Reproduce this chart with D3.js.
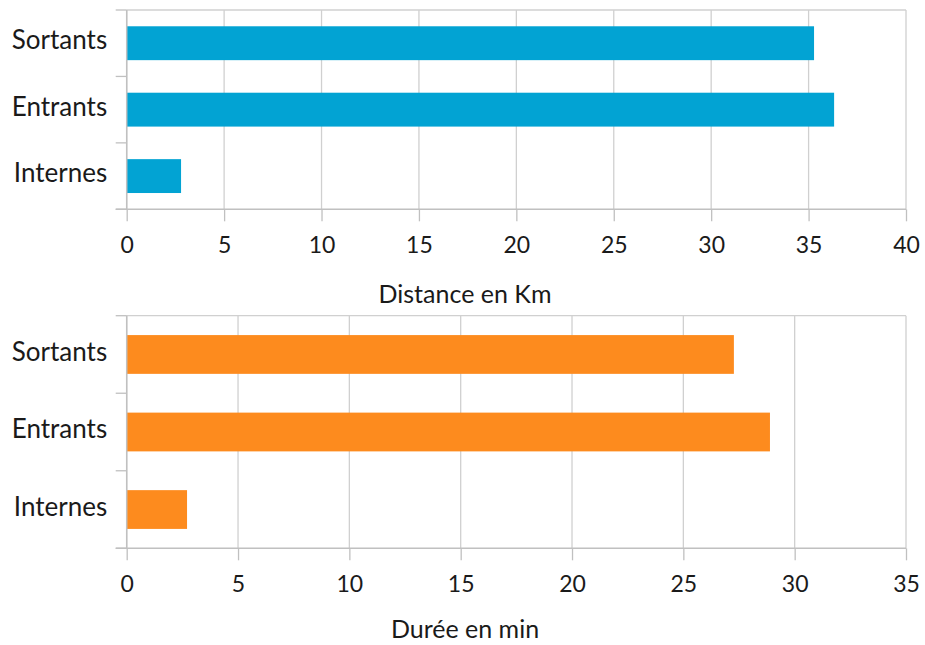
<!DOCTYPE html>
<html>
<head>
<meta charset="utf-8">
<script src="https://cdn.jsdelivr.net/npm/d3@7"></script>
<style>
  html, body { margin: 0; padding: 0; background: #fff; }
  svg text { font-family: "Century Gothic", "Lato", "DejaVu Sans", sans-serif; fill: #1a1a1a; }
</style>
</head>
<body>
<svg id="chart" width="925" height="645"></svg>
<script>
const categories = ["Sortants", "Entrants", "Internes"];
const distanceValues = [35.28, 36.31, 2.79];
const dureeValues = [27.27, 28.89, 2.71];
const distanceTicks = [0, 5, 10, 15, 20, 25, 30, 35, 40];
const dureeTicks = [0, 5, 10, 15, 20, 25, 30, 35];
const distanceTitle = "Distance en Km";
const dureeTitle = "Durée en min";

const svg = d3.select("#chart");
const FONT = "'Century Gothic', Lato, 'DejaVu Sans', sans-serif";

function drawPanel(opts) {
  const { top, bottom, left, right, values, ticks, color, title, titleY, padding } = opts;
  const g = svg.append("g");
  const x = d3.scaleLinear().domain([0, d3.max(ticks)]).range([left, right]);
  const y = d3.scaleBand().domain(categories).range([top, bottom]).paddingInner(padding).paddingOuter(padding / 2);
  const yEdges = d3.scaleLinear().domain([0, categories.length]).range([top, bottom]);

  // gridlines
  g.selectAll("line.grid").data(ticks).join("line")
    .attr("x1", d => x(d)).attr("x2", d => x(d))
    .attr("y1", top).attr("y2", bottom)
    .attr("stroke", "#d0d0d0").attr("stroke-width", 1.3);
  // top border
  g.append("line").attr("x1", left).attr("x2", right).attr("y1", top).attr("y2", top)
    .attr("stroke", "#d0d0d0").attr("stroke-width", 1.3);

  // bars
  g.selectAll("rect.bar").data(values).join("rect")
    .attr("x", x(0))
    .attr("y", (d, i) => y(categories[i]))
    .attr("width", d => x(d) - x(0))
    .attr("height", y.bandwidth())
    .attr("fill", color);

  // x axis
  const xAxis = d3.axisBottom(x).tickValues(ticks).tickSize(12).tickSizeOuter(0).tickPadding(15);
  const xa = g.append("g").attr("transform", `translate(0,${bottom})`).call(xAxis);
  xa.select(".domain").attr("stroke", "#c0c0c0").attr("stroke-width", 1.5)
    .attr("d", `M${left - 11},0H${right}`);
  xa.selectAll(".tick line").attr("stroke", "#c0c0c0").attr("stroke-width", 1.3);
  xa.selectAll(".tick text").attr("font-size", 23).attr("fill", "#1a1a1a").style("font-family", FONT);

  // y axis
  const yAxis = d3.axisLeft(y).tickSize(0).tickPadding(19.5);
  const ya = g.append("g").attr("transform", `translate(${left},0)`).call(yAxis);
  ya.select(".domain").attr("stroke", "#c0c0c0").attr("stroke-width", 1.5)
    .attr("d", `M0,${top}V${bottom}`);
  ya.selectAll(".tick text").attr("font-size", 26).attr("dy", "0.24em").attr("fill", "#1a1a1a").style("font-family", FONT);
  // category boundary ticks
  g.selectAll("line.ctick").data(d3.range(categories.length + 1)).join("line")
    .attr("x1", left - 11).attr("x2", left)
    .attr("y1", d => yEdges(d)).attr("y2", d => yEdges(d))
    .attr("stroke", "#c0c0c0").attr("stroke-width", 1.3);

  // title
  g.append("text").attr("x", 465).attr("y", titleY).attr("text-anchor", "middle")
    .attr("font-size", 25).text(title);
}

drawPanel({ top: 10, bottom: 209.3, left: 126.7, right: 906, values: distanceValues, ticks: distanceTicks,
  color: "#02a3d3", title: distanceTitle, titleY: 303, padding: 0.49 });
drawPanel({ top: 315.7, bottom: 548.3, left: 126.7, right: 906, values: dureeValues, ticks: dureeTicks,
  color: "#fd8b1e", title: dureeTitle, titleY: 638, padding: 0.5 });
</script>
</body>
</html>
